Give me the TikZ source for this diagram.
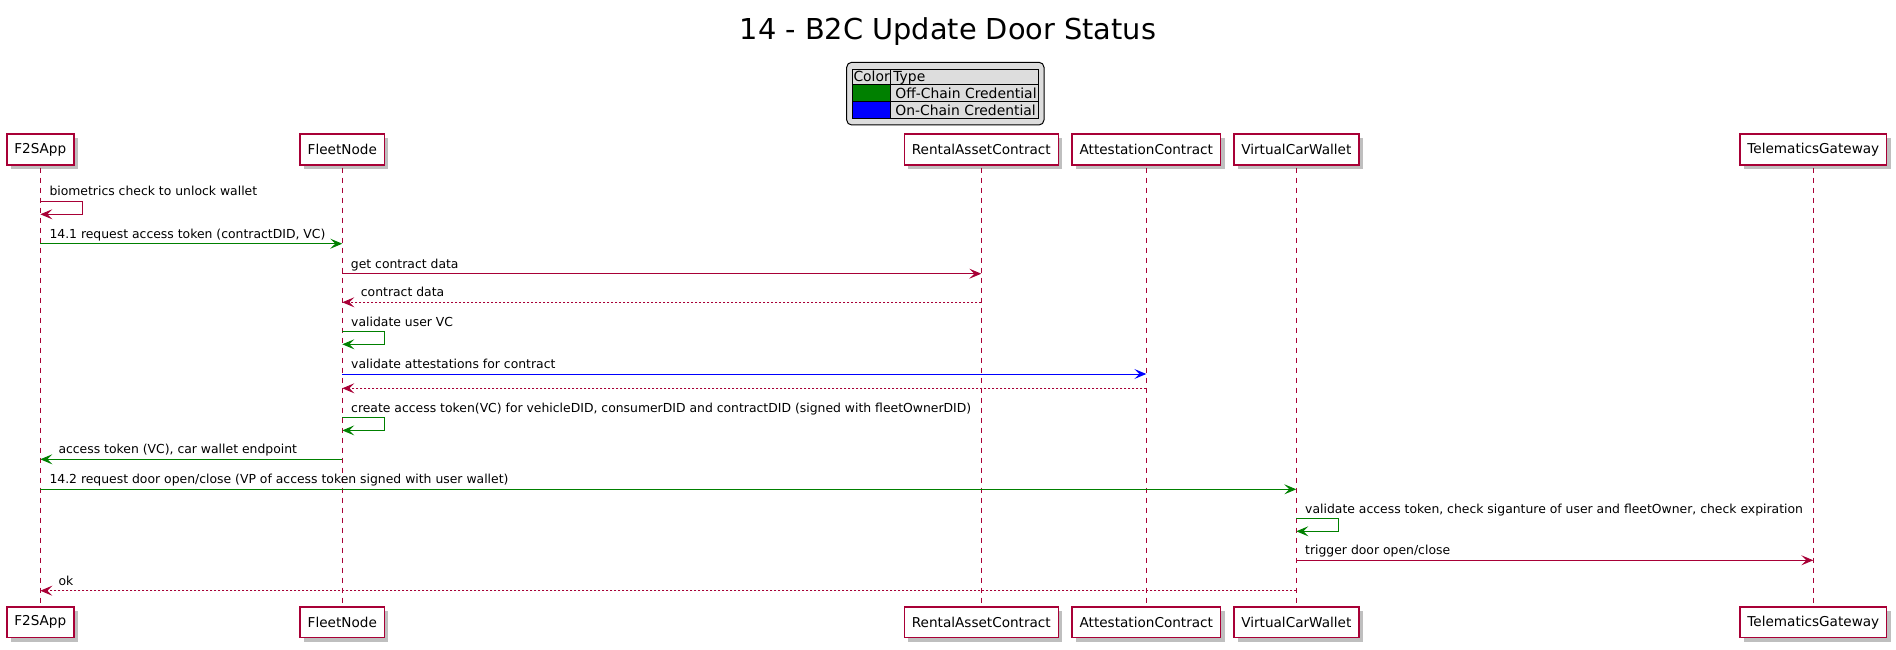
\documentclass[tikz,border=0pt]{standalone}
\usepackage{fontspec}
\setmainfont{DejaVu Sans}
\usetikzlibrary{arrows.meta,shadows}
\definecolor{pcol}{HTML}{A80036}
\definecolor{offc}{HTML}{008000}
\definecolor{onc}{HTML}{0000FF}
\definecolor{lgray}{HTML}{DDDDDD}
\tikzset{
  part/.style={draw=pcol, line width=1.5pt, fill=white, font=\fontsize{13.6}{16}\selectfont,
    inner xsep=7.5pt, inner ysep=0pt, minimum height=30.7pt,
    drop shadow={shadow xshift=4pt, shadow yshift=-4pt, opacity=0.25, fill=black}},
  life/.style={pcol, line width=1pt, dash pattern=on 5pt off 5pt},
  msg/.style={line width=1pt, -{Stealth[length=12pt,width=10pt,inset=5pt]}},
  ret/.style={msg, dash pattern=on 2pt off 2pt},
  lbl/.style={font=\fontsize{12.4}{14}\selectfont, inner sep=0pt, anchor=base west},
  lgt/.style={font=\fontsize{13.9}{16}\selectfont, inner sep=0pt, anchor=base west}
}
\begin{document}
\begin{tikzpicture}[x=1pt,y=-1pt]
\useasboundingbox (0,0) rectangle (1896,650);
% title
\node[font=\fontsize{28.8}{32}\selectfont, anchor=base, inner sep=0pt] (title) at (948,40) {14 - B2C Update Door Status};
% legend
\node[draw=black, line width=1pt, rounded corners=5pt, fill=lgray, minimum width=197.3pt, minimum height=62.7pt, inner sep=0pt] (legend) at (945.35,93.65) {};
\fill[offc] (852.3,84.3) rectangle (890.7,101.7);
\fill[onc] (852.3,101.7) rectangle (890.7,118.3);
\draw[line width=1.2pt] (852.3,69.3) rectangle (1038.7,118.3);
\draw[line width=1.2pt] (852.3,84.3) -- (1038.7,84.3) (852.3,101.7) -- (1038.7,101.7) (890.7,69.3) -- (890.7,118.3);
\node[lgt] (lcolor) at (853.3,81.8) {Color};
\node[lgt] (ltype) at (893.2,81.8) {Type};
\node[lgt] (loff) at (895.2,98.6) {Off-Chain Credential};
\node[lgt] (lon) at (895.2,115.2) {On-Chain Credential};
% participants
\node[part] (pA) at (40.3,149.6) {F2SApp};
\node[part] (pB) at (342.3,149.6) {FleetNode};
\node[part] (pC) at (981.3,149.6) {RentalAssetContract};
\node[part] (pD) at (1146.3,149.6) {AttestationContract};
\node[part] (pE) at (1296.3,149.6) {VirtualCarWallet};
\node[part] (pF) at (1813.3,149.6) {TelematicsGateway};
\node[part] (bA) at (40.3,622.3) {F2SApp};
\node[part] (bB) at (342.3,622.3) {FleetNode};
\node[part] (bC) at (981.3,622.3) {RentalAssetContract};
\node[part] (bD) at (1146.3,622.3) {AttestationContract};
\node[part] (bE) at (1296.3,622.3) {VirtualCarWallet};
\node[part] (bF) at (1813.3,622.3) {TelematicsGateway};
% lifelines
\foreach \p in {A,B,C,D,E,F} {
  \draw[life] ([yshift=-2pt]p\p.south) -- ([yshift=1pt]b\p.north);
}
% messages
\draw[msg,pcol] (pA |- 0,201.3) -- ++(42,0) |- (pA |- 0,214.3);
\node[lbl] (m1) at (49.3,196) {biometrics check to unlock wallet};

\draw[msg,offc] (pA |- 0,243.7) -- (pB |- 0,243.7);
\node[lbl] (m2) at (49.3,238) {14.1 request access token (contractDID, VC)};

\draw[msg,pcol] (pB |- 0,273.7) -- (pC |- 0,273.7);
\node[lbl] (m3) at (350.7,268) {get contract data};

\draw[ret,pcol] (pC |- 0,302.3) -- (pB |- 0,302.3);
\node[lbl] (m4) at (360.7,296.6) {contract data};

\draw[msg,offc] (pB |- 0,331.3) -- ++(42,0) |- (pB |- 0,344.3);
\node[lbl] (m5) at (351,326) {validate user VC};

\draw[msg,onc] (pB |- 0,374) -- (pD |- 0,374);
\node[lbl] (m6) at (351,368.3) {validate attestations for contract};

\draw[ret,pcol] (pD |- 0,388.3) -- (pB |- 0,388.3);

\draw[msg,offc] (pB |- 0,417.7) -- ++(42,0) |- (pB |- 0,430.4);
\node[lbl] (m8) at (351,412.2) {create access token(VC) for vehicleDID, consumerDID and contractDID (signed with fleetOwnerDID)};

\draw[msg,offc] (pB |- 0,459.3) -- (pA |- 0,459.3);
\node[lbl] (m9) at (58.3,453.6) {access token (VC), car wallet endpoint};

\draw[msg,offc] (pA |- 0,489.3) -- (pE |- 0,489.3);
\node[lbl] (m10) at (49.3,483.6) {14.2 request door open/close (VP of access token signed with user wallet)};

\draw[msg,offc] (pE |- 0,518.7) -- ++(42,0) |- (pE |- 0,531.3);
\node[lbl] (m11) at (1305,513.2) {validate access token, check siganture of user and fleetOwner, check expiration};

\draw[msg,pcol] (pE |- 0,560.3) -- (pF |- 0,560.3);
\node[lbl] (m12) at (1305,554.6) {trigger door open/close};

\draw[ret,pcol] (pE |- 0,590.7) -- (pA |- 0,590.7);
\node[lbl] (m13) at (58.3,585) {ok};
\end{tikzpicture}
\end{document}
